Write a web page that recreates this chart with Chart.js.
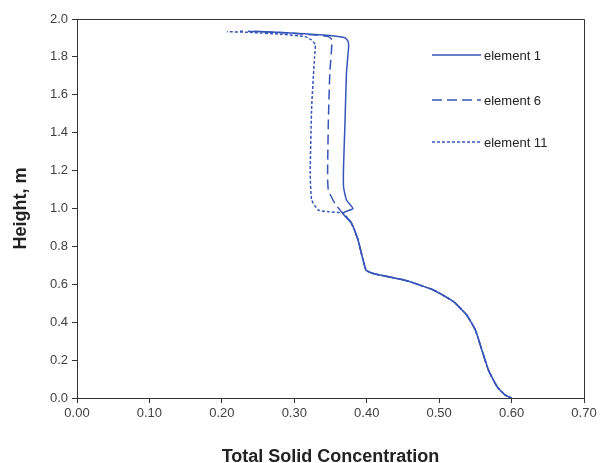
<!DOCTYPE html>
<html>
<head>
<meta charset="utf-8">
<script src="https://cdn.jsdelivr.net/npm/chart.js@4/dist/chart.umd.min.js"></script>
<style>
html,body{margin:0;padding:0;background:#fff;}
#wrap{width:603px;height:463px;}
</style>
</head>
<body>
<div id="wrap"><canvas id="c" width="603" height="463"></canvas></div>
<script>
// Series labels
const seriesLabels = ["element 1", "element 6", "element 11"];
// Shared lower profile (concentration, height)
const lowerConc   = [0.600, 0.591, 0.580, 0.568, 0.559, 0.550, 0.538, 0.520, 0.492, 0.455, 0.409, 0.399, 0.388, 0.379, 0.367];
const lowerHeight = [0.000, 0.016, 0.060, 0.148, 0.253, 0.359, 0.438, 0.508, 0.570, 0.619, 0.657, 0.675, 0.834, 0.922, 0.975];
// Upper parts
const el1Conc   = [0.381, 0.372, 0.368, 0.368, 0.370, 0.372, 0.375, 0.374, 0.370, 0.352, 0.306, 0.260, 0.245];
const el1Height = [1.000, 1.045, 1.115, 1.221, 1.451, 1.713, 1.854, 1.885, 1.901, 1.912, 1.924, 1.933, 1.936];
const el6Conc   = [0.365, 0.356, 0.347, 0.346, 0.347, 0.349, 0.352, 0.347, 0.330, 0.298, 0.260, 0.225];
const el6Height = [0.983, 1.027, 1.098, 1.186, 1.450, 1.713, 1.889, 1.907, 1.915, 1.925, 1.932, 1.936];
const el11Conc   = [0.347, 0.333, 0.324, 0.322, 0.324, 0.328, 0.329, 0.324, 0.315, 0.283, 0.236, 0.207];
const el11Height = [0.983, 0.992, 1.045, 1.186, 1.537, 1.800, 1.863, 1.889, 1.907, 1.919, 1.930, 1.933];
// Tick labels
const xTicks = ["0.00","0.10","0.20","0.30","0.40","0.50","0.60","0.70"];
const yTicks = ["0.0","0.2","0.4","0.6","0.8","1.0","1.2","1.4","1.6","1.8","2.0"];

function pts(cs, hs){ return cs.map((c,i)=>({x:c, y:hs[i]})); }
const lower = pts(lowerConc, lowerHeight);
const color = '#3556b8';
const dashes = [[], [10,5], [3,2]];

const data = {
  datasets: [
    {label: seriesLabels[0], data: lower.concat(pts(el1Conc, el1Height))},
    {label: seriesLabels[1], data: lower.concat(pts(el6Conc, el6Height))},
    {label: seriesLabels[2], data: lower.concat(pts(el11Conc, el11Height))}
  ].map((d,i)=>Object.assign(d,{
    showLine:true, borderColor:color, backgroundColor:color, borderWidth:1.5,
    pointRadius:0, tension:0.15, borderDash:dashes[i], fill:false
  }))
};

const boxPlugin = {
  id:'box',
  afterDraw(chart){
    const {ctx, chartArea:a} = chart;
    ctx.save();
    ctx.strokeStyle='#333'; ctx.lineWidth=1;
    ctx.beginPath();
    ctx.moveTo(a.left, a.top+0.5); ctx.lineTo(a.right+0.5, a.top+0.5); ctx.lineTo(a.right+0.5, a.bottom);
    ctx.stroke();
    // legend
    const ys=[55,100,142];
    ctx.font='13px "Liberation Sans", Arial, sans-serif';
    ctx.textBaseline='middle'; ctx.fillStyle='#222';
    chart.data.datasets.forEach((ds,i)=>{
      ctx.strokeStyle=ds.borderColor; ctx.lineWidth=1.5; ctx.setLineDash(ds.borderDash);
      ctx.beginPath(); ctx.moveTo(432, ys[i]); ctx.lineTo(481, ys[i]); ctx.stroke();
      ctx.setLineDash([]);
      ctx.fillText(ds.label, 484, ys[i]+1);
    });
    ctx.restore();
  }
};

new Chart(document.getElementById('c'), {
  type:'scatter',
  data,
  plugins:[boxPlugin],
  options:{
    responsive:false, animation:false,
    layout:{padding:{left:10, right:19, top:19, bottom:0}},
    plugins:{legend:{display:false}, tooltip:{enabled:false}},
    scales:{
      x:{
        type:'linear', min:0, max:0.7,
        afterFit(s){ s.height = 65; },
        afterBuildTicks(s){ s.ticks = xTicks.map(t=>({value:parseFloat(t)})); },
        ticks:{ callback:(v,i)=>xTicks[i], color:'#404040', font:{family:'"Liberation Sans", Arial, sans-serif', size:13}, padding:3, maxRotation:0 },
        grid:{ drawOnChartArea:false, drawTicks:true, tickLength:5, color:'#333' },
        border:{ display:true, color:'#333', width:1 },
        title:{ display:true, text:'Total Solid Concentration', color:'#222', font:{family:'"Liberation Sans", Arial, sans-serif', size:18, weight:'bold', lineHeight:0.7}, padding:{top:14, bottom:0} }
      },
      y:{
        type:'linear', min:0, max:2.0,
        afterFit(s){ s.width = 67; },
        afterBuildTicks(s){ s.ticks = yTicks.map(t=>({value:parseFloat(t)})); },
        ticks:{ callback:(v,i)=>yTicks[i], color:'#404040', font:{family:'"Liberation Sans", Arial, sans-serif', size:13}, padding:4 },
        grid:{ drawOnChartArea:false, drawTicks:true, tickLength:5, color:'#333' },
        border:{ display:true, color:'#333', width:1 },
        title:{ display:true, text:'Height, m', color:'#222', font:{family:'"Liberation Sans", Arial, sans-serif', size:18, weight:'bold'}, padding:{top:0, bottom:6} }
      }
    }
  }
});
</script>
</body>
</html>
